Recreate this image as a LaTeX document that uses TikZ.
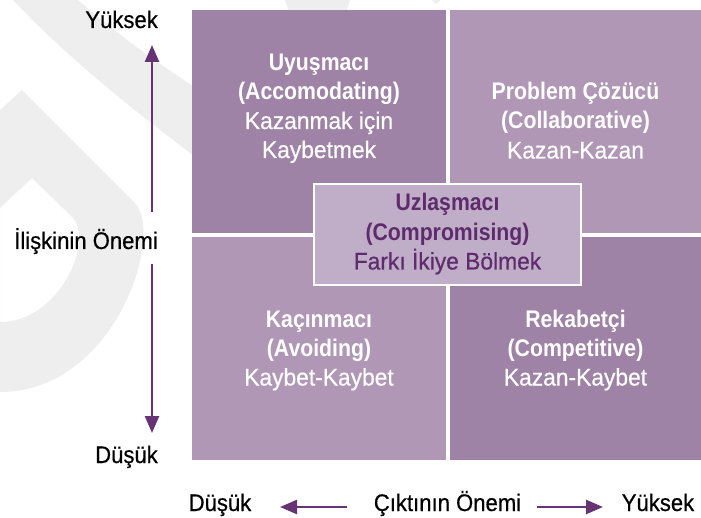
\documentclass[tikz,border=0pt]{standalone}
\usepackage{fontspec}
\setmainfont{Liberation Sans}
\newfontfamily\axf[FakeStretch=0.92,FakeBold=0.5]{Liberation Sans}
\newfontfamily\regf[FakeStretch=0.95,FakeBold=0.5]{Liberation Sans}
\newfontfamily\bldf[FakeStretch=0.885]{Liberation Sans}
\usetikzlibrary{arrows.meta}
\definecolor{qdark}{RGB}{159,131,166}
\definecolor{qlight}{RGB}{176,151,182}
\definecolor{ccol}{RGB}{192,173,200}
\definecolor{ctext}{RGB}{94,44,108}
\definecolor{arr}{RGB}{102,51,117}
\definecolor{wm}{RGB}{238,238,238}
\tikzset{
  ax/.style={font=\axf\fontsize{24}{29}\selectfont, text=black, inner sep=0pt},
  qb/.style={font=\bldf\bfseries\fontsize{24}{29}\selectfont, text=white, anchor=base, inner sep=0pt},
  qr/.style={font=\regf\fontsize{24}{29}\selectfont, text=white, anchor=base, inner sep=0pt},
  cb/.style={qb, text=ctext},
  cr/.style={qr, text=ctext},
  quad/.style={draw=none, inner sep=0pt, outer sep=0pt},
  darkq/.style={quad, fill=qdark, minimum width=254pt, minimum height=223pt},
  lightq/.style={quad, fill=qlight, minimum width=254pt, minimum height=223pt},
  cbox/.style={fill=ccol, draw=white, line width=2pt, inner sep=0pt, minimum width=267pt, minimum height=101pt},
  axarrow/.style={draw=arr, line width=2.5pt, -{Triangle[width=14pt,length=17pt]}},
}
\begin{document}
\begin{tikzpicture}[x=1pt,y=-1pt]
\useasboundingbox (0,0) rectangle (701,518);
% background watermark
\fill[wm] (13,0) -- (78,0) .. controls (110,28) and (150,58) .. (190,84) -- (235,114) -- (235,185) -- (190,153) .. controls (120,100) and (60,50) .. (13,0) -- cycle;
\fill[wm] (285,0) -- (350,0) -- (346,12) -- (289,12) -- cycle;
\fill[wm] (432,0) -- (441,0) -- (436,4) -- cycle;
\fill[wm, even odd rule] (0,110) -- (22,90) -- (135,203) .. controls (165,235) and (115,392) .. (0,392) -- cycle
  (0,208) -- (32,178) -- (72,217) .. controls (95,240) and (60,322) .. (0,322) -- cycle;
% quadrants
\node[darkq] (tl) at (319,121.5) {};
\node[lightq, minimum width=251pt] (tr) at (575.5,121.5) {};
\node[lightq] (bl) at (319,348.5) {};
\node[darkq, minimum width=251pt] (br) at (575.5,348.5) {};
\node[cbox] (cc) at (447.5,234.5) {};
% top-left text
\node[qb] (tl1) at (319,71) {Uyuşmacı};
\node[qb] (tl2) at (319,100) {(Accomodating)};
\node[qr] (tl3) at (319,129) {Kazanmak için};
\node[qr] (tl4) at (319,158) {Kaybetmek};
% top-right text
\node[qb] (tr1) at (575.5,99.5) {Problem Çözücü};
\node[qb] (tr2) at (575.5,129) {(Collaborative)};
\node[qr] (tr3) at (575.5,158.5) {Kazan-Kazan};
% center text
\node[cb] (cc1) at (447.5,210.5) {Uzlaşmacı};
\node[cb] (cc2) at (447.5,240.5) {(Compromising)};
\node[cr] (cc3) at (447.5,269.5) {Farkı İkiye Bölmek};
% bottom-left text
\node[qb] (bl1) at (319,327) {Kaçınmacı};
\node[qb] (bl2) at (319,356) {(Avoiding)};
\node[qr] (bl3) at (319,385.5) {Kaybet-Kaybet};
% bottom-right text
\node[qb] (br1) at (575.5,327) {Rekabetçi};
\node[qb] (br2) at (575.5,356) {(Competitive)};
\node[qr] (br3) at (575.5,385.5) {Kazan-Kaybet};
% axis labels
\node[ax, anchor=base east] (ly) at (158,28) {Yüksek};
\node[ax, anchor=base east] (lo) at (158,249) {İlişkinin Önemi};
\node[ax, anchor=base east] (ld) at (158,463) {Düşük};
\node[ax, anchor=base] (bd) at (220,511) {Düşük};
\node[ax, anchor=base] (bc) at (447.5,511) {Çıktının Önemi};
\node[ax, anchor=base] (by) at (658,511) {Yüksek};
% arrows
\coordinate (vu1) at (152,212);
\coordinate (vu2) at (152,45);
\coordinate (vd1) at (152,264);
\coordinate (vd2) at (152,433);
\coordinate (hl1) at (347,507);
\coordinate (hl2) at (280,507);
\coordinate (hr1) at (537,507);
\coordinate (hr2) at (603,507);
\draw[axarrow] (vu1) -- (vu2);
\draw[axarrow] (vd1) -- (vd2);
\draw[axarrow] (hl1) -- (hl2);
\draw[axarrow] (hr1) -- (hr2);
\end{tikzpicture}
\end{document}
